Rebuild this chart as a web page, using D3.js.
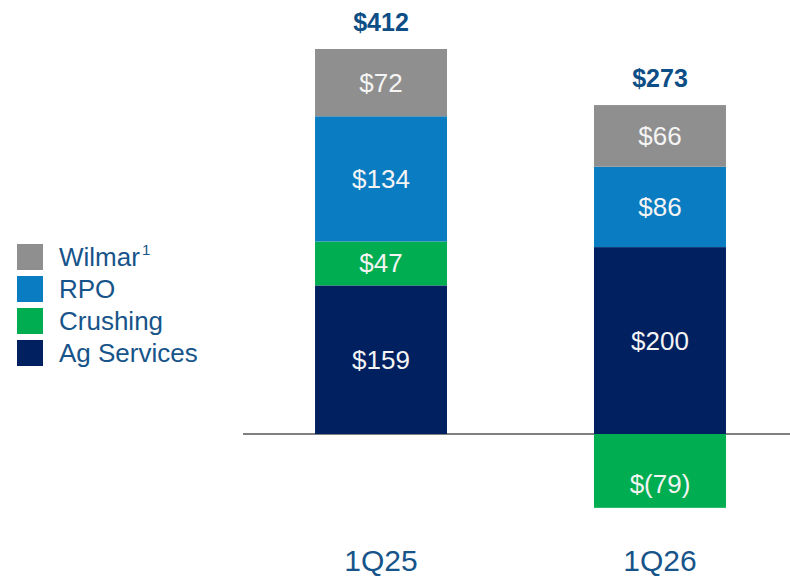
<!DOCTYPE html>
<html>
<head>
<meta charset="utf-8">
<script src="https://cdn.jsdelivr.net/npm/d3@7"></script>
<style>
  body { margin: 0; background: #fff; }
  svg { display: block; font-family: Arial, "Liberation Sans", sans-serif; }
</style>
</head>
<body>
<div class="chart"></div>
<script>
var width = 790, height = 577;

// data
var quarters = ["1Q25", "1Q26"];
var segments = ["Ag Services", "Crushing", "RPO", "Wilmar"];
var agServices = [159, 200];
var crushing = [47, -79];
var rpo = [134, 86];
var wilmar = [72, 66];
var totals = [412, 273];
var legendOrder = ["Wilmar", "RPO", "Crushing", "Ag Services"];

var colors = {
  "Ag Services": "#002060",
  "Crushing": "#00ad50",
  "RPO": "#0a7cc1",
  "Wilmar": "#8f8f8f"
};
var textBlue = "#17548a";

var svg = d3.select(".chart")
  .append("svg")
    .attr("width", width)
    .attr("height", height);

var x = d3.scaleBand()
  .domain(quarters)
  .range([168, 873])
  .padding(0.527);

var y = d3.scaleLinear()
  .domain([0, 412])
  .range([434, 49]);

// build stacked rows, positives upward, negatives downward
var values = { "Ag Services": agServices, "Crushing": crushing, "RPO": rpo, "Wilmar": wilmar };
var rows = [];
var stackTop = [];
quarters.forEach(function(q, i) {
  var pos = 0, neg = 0;
  segments.forEach(function(s) {
    var v = values[s][i];
    var y0, y1;
    if (v >= 0) { y0 = pos; y1 = pos + v; pos = y1; }
    else { y0 = neg + v; y1 = neg; neg = y0; }
    rows.push({ q: q, seg: s, v: v, y0: y0, y1: y1 });
  });
  stackTop.push(pos);
});

// baseline
svg.append("line")
  .attr("x1", 243).attr("x2", width)
  .attr("y1", y(0)).attr("y2", y(0))
  .attr("stroke", "#808080")
  .attr("stroke-width", 2);

svg.selectAll("rect.seg")
  .data(rows)
  .enter()
  .append("rect")
    .attr("class", "seg")
    .attr("x", function(d) { return x(d.q); })
    .attr("width", x.bandwidth())
    .attr("y", function(d) { return y(d.y1); })
    .attr("height", function(d) { return y(d.y0) - y(d.y1); })
    .attr("fill", function(d) { return colors[d.seg]; });

svg.selectAll("text.val")
  .data(rows)
  .enter()
  .append("text")
    .attr("class", "val")
    .attr("x", function(d) { return x(d.q) + x.bandwidth() / 2; })
    .attr("y", function(d) {
      var mid = (y(d.y0) + y(d.y1)) / 2;
      return d.v < 0 ? mid + 22 : mid + 9;
    })
    .attr("text-anchor", "middle")
    .attr("font-size", 26)
    .attr("fill", "#f4f4f4")
    .text(function(d) { return d.v < 0 ? "$(" + (-d.v) + ")" : "$" + d.v; });

// totals sit above the positive stack
svg.selectAll("text.total")
  .data(quarters)
  .enter()
  .append("text")
    .attr("class", "total")
    .attr("x", function(d) { return x(d) + x.bandwidth() / 2; })
    .attr("y", function(d, i) { return y(stackTop[i]) - 18; })
    .attr("text-anchor", "middle")
    .attr("font-size", 25)
    .attr("font-weight", "bold")
    .attr("fill", "#0e4e86")
    .text(function(d, i) { return "$" + totals[i]; });

svg.selectAll("text.cat")
  .data(quarters)
  .enter()
  .append("text")
    .attr("class", "cat")
    .attr("x", function(d) { return x(d) + x.bandwidth() / 2; })
    .attr("y", 571)
    .attr("text-anchor", "middle")
    .attr("font-size", 30)
    .attr("fill", textBlue)
    .text(function(d) { return d; });

// legend
var legend = svg.append("g").attr("transform", "translate(17,244)");
var item = legend.selectAll("g")
  .data(legendOrder)
  .enter()
  .append("g")
    .attr("transform", function(d, i) { return "translate(0," + (i * 32) + ")"; });

item.append("rect")
  .attr("width", 26).attr("height", 26)
  .attr("fill", function(d) { return colors[d]; });

item.append("text")
  .attr("x", 42)
  .attr("y", 22)
  .attr("font-size", 26)
  .attr("fill", textBlue)
  .text(function(d) { return d; })
  .filter(function(d) { return d === "Wilmar"; })
  .append("tspan")
    .attr("font-size", 15)
    .attr("dx", 2)
    .attr("dy", -11)
    .text("1");
</script>
</body>
</html>
